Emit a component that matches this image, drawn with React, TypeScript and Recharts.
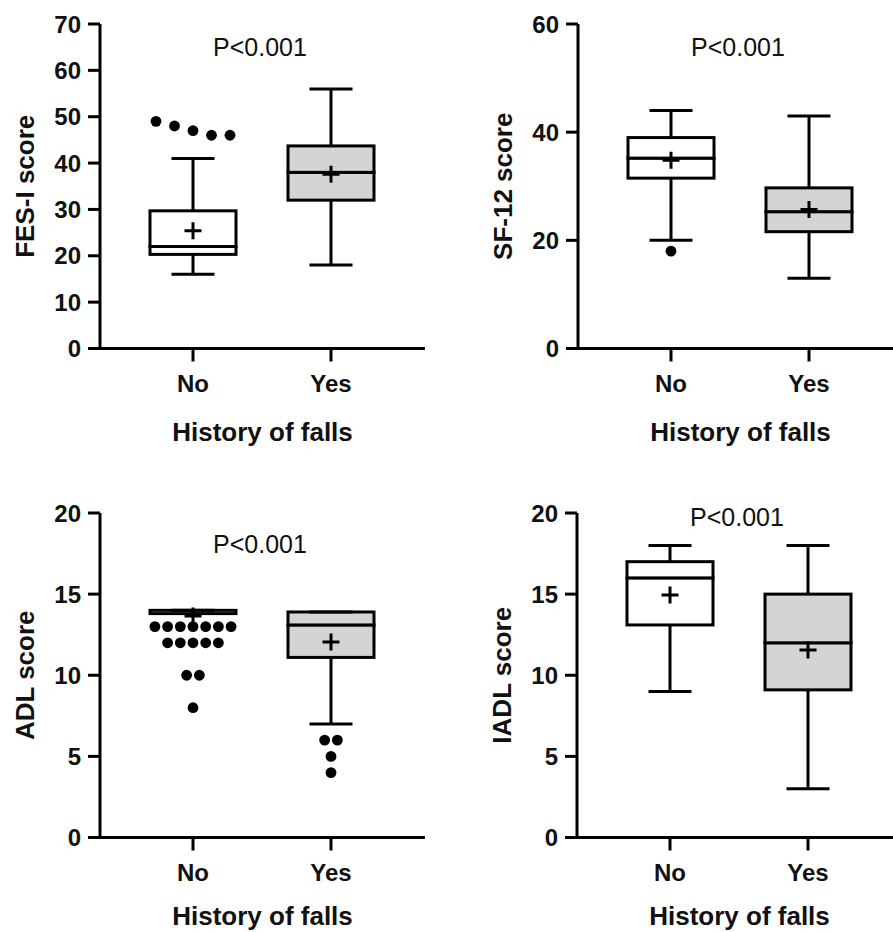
import { ComposedChart, Bar, Scatter, XAxis, YAxis } from 'recharts';

const GROUPS = ['No', 'Yes'];

// FES-I score
const FES_MIN = [16, 18];
const FES_Q1 = [20.3, 32];
const FES_MED = [22, 38];
const FES_Q3 = [29.7, 43.7];
const FES_MAX = [41, 56];
const FES_MEAN = [25.4, 37.6];
const FES_OUTLIERS = [[49, 48, 47, 46, 46], []];
const FES_TICKS = [0, 10, 20, 30, 40, 50, 60, 70];

// SF-12 score
const SF_MIN = [20, 13];
const SF_Q1 = [31.5, 21.6];
const SF_MED = [35.2, 25.3];
const SF_Q3 = [39, 29.7];
const SF_MAX = [44, 43];
const SF_MEAN = [34.8, 25.7];
const SF_OUTLIERS = [[18], []];
const SF_TICKS = [0, 20, 40, 60];

// ADL score
const ADL_MIN = [13.8, 7];
const ADL_Q1 = [13.8, 11.1];
const ADL_MED = [14, 13.1];
const ADL_Q3 = [14, 13.9];
const ADL_MAX = [14, 13.9];
const ADL_MEAN = [13.65, 12.05];
const ADL_OUTLIERS = [
    [13, 13, 13, 13, 13, 13, 13, 12, 12, 12, 12, 12, 10, 10, 8],
    [6, 6, 5, 4],
];
const ADL_TICKS = [0, 5, 10, 15, 20];

// IADL score
const IADL_MIN = [9, 3];
const IADL_Q1 = [13.1, 9.1];
const IADL_MED = [16, 12];
const IADL_Q3 = [17, 15];
const IADL_MAX = [18, 18];
const IADL_MEAN = [14.95, 11.55];
const IADL_OUTLIERS: number[][] = [[], []];
const IADL_TICKS = [0, 5, 10, 15, 20];

const P_TEXT = 'P<0.001';
const X_TITLE = 'History of falls';

const INK = '#000';
const TEXT = '#111';
const BOX_FILLS = ['#ffffff', '#d4d4d4'];
const SW = 3;
const FONT = '"Liberation Sans", Arial, Helvetica, sans-serif';

const PLOT_W = 325;
const PLOT_H = 324.5;
const M_LEFT = 10;
const Y_AXIS_W = 90;
const M_TOP = 24;
const X_AXIS_H = 100;
const PAD_L = 24;
const PAD_R = 25;
const BAND = (PLOT_W - PAD_L - PAD_R) / 2;
const BOX_W = 86;

function LowWhisker(p: any) {
    const cx = p.x + p.width / 2;
    const cap = p.width / 4;
    const bottom = p.y + p.height;
    return (
        <g stroke={INK} strokeWidth={SW}>
            <line x1={cx} x2={cx} y1={p.y} y2={bottom} />
            <line x1={cx - cap} x2={cx + cap} y1={bottom} y2={bottom} />
        </g>
    );
}

function HighWhisker(p: any) {
    const cx = p.x + p.width / 2;
    const cap = p.width / 4;
    return (
        <g stroke={INK} strokeWidth={SW}>
            <line x1={cx} x2={cx} y1={p.y} y2={p.y + p.height} />
            <line x1={cx - cap} x2={cx + cap} y1={p.y} y2={p.y} />
        </g>
    );
}

function BoxPart(p: any) {
    return (
        <rect
            x={p.x}
            y={p.y}
            width={p.width}
            height={Math.max(p.height, 0)}
            fill={BOX_FILLS[p.index] ?? '#fff'}
            stroke={INK}
            strokeWidth={SW}
        />
    );
}

function MeanCross(p: any) {
    const s = 8.5;
    return (
        <path
            d={`M${p.cx - s},${p.cy}H${p.cx + s}M${p.cx},${p.cy - s}V${p.cy + s}`}
            stroke={INK}
            strokeWidth={SW}
            fill="none"
        />
    );
}

function Dot(p: any) {
    return <circle cx={p.cx} cy={p.cy} r={5.4} fill={INK} />;
}

// spread outliers that would overlap into a row, like Prism does
function spreadOutliers(values: number[], gi: number, pxPerUnit: number, gapPx: number) {
    const sorted = [...values].sort((a, b) => b - a);
    const clusters: number[][] = [];
    sorted.forEach((v) => {
        const last = clusters[clusters.length - 1];
        if (last && (last[last.length - 1] - v) * pxPerUnit < 12) last.push(v);
        else clusters.push([v]);
    });
    return clusters.flatMap((c) =>
        c.map((v, k) => ({ x: gi + 1 + ((k - (c.length - 1) / 2) * gapPx) / BAND, y: v }))
    );
}

interface PanelProps {
    left: number;
    top: number;
    pTop: number;
    titleOffset: number;
    yLabel: string;
    yMax: number;
    ticks: number[];
    min: number[];
    q1: number[];
    med: number[];
    q3: number[];
    max: number[];
    mean: number[];
    outliers: number[][];
    dotGap: number;
}

function BoxPanel(props: PanelProps) {
    const { left, top, pTop, titleOffset, yLabel, yMax, ticks, min, q1, med, q3, max, mean, outliers, dotGap } = props;

    const rows = GROUPS.map((g, i) => ({
        group: g,
        base: min[i],
        lowW: q1[i] - min[i],
        lowBox: med[i] - q1[i],
        highBox: q3[i] - med[i],
        highW: max[i] - q3[i],
    }));
    const means = GROUPS.map((_, i) => ({ x: i + 1, y: mean[i] }));
    const pxPerUnit = PLOT_H / yMax;
    const dots = outliers.flatMap((vals, i) => spreadOutliers(vals, i, pxPerUnit, dotGap));

    const tickStyle = { fill: TEXT, fontSize: 24, fontWeight: 700, fontFamily: FONT };

    return (
        <>
            <div style={{ position: 'absolute', left, top }}>
                <ComposedChart
                    width={M_LEFT + Y_AXIS_W + PLOT_W}
                    height={M_TOP + PLOT_H + X_AXIS_H}
                    data={rows}
                    margin={{ top: M_TOP, right: 0, bottom: 0, left: M_LEFT }}
                >
                    <XAxis
                        xAxisId="cat"
                        dataKey="group"
                        type="category"
                        padding={{ left: PAD_L, right: PAD_R }}
                        height={X_AXIS_H}
                        interval={0}
                        tickSize={13}
                        tickMargin={13}
                        axisLine={{ stroke: INK, strokeWidth: SW }}
                        tickLine={{ stroke: INK, strokeWidth: SW }}
                        tick={tickStyle}
                        label={{
                            value: X_TITLE,
                            position: 'insideTop',
                            offset: titleOffset,
                            fill: TEXT,
                            fontSize: 26,
                            fontWeight: 700,
                            fontFamily: FONT,
                        }}
                    />
                    <XAxis
                        xAxisId="num"
                        dataKey="x"
                        type="number"
                        domain={[0.5, 2.5]}
                        padding={{ left: PAD_L, right: PAD_R }}
                        allowDataOverflow
                        hide
                    />
                    <YAxis
                        yAxisId="v"
                        type="number"
                        domain={[0, yMax]}
                        ticks={ticks}
                        interval={0}
                        allowDataOverflow
                        width={Y_AXIS_W}
                        tickSize={12}
                        tickMargin={7}
                        axisLine={{ stroke: INK, strokeWidth: SW }}
                        tickLine={{ stroke: INK, strokeWidth: SW }}
                        tick={tickStyle}
                        label={{
                            value: yLabel,
                            angle: -90,
                            position: 'insideLeft',
                            offset: 15,
                            fill: TEXT,
                            fontSize: 26,
                            fontWeight: 700,
                            fontFamily: FONT,
                            style: { textAnchor: 'middle' },
                        }}
                    />

                    {/* Box plot pieces stacked from the minimum upwards */}
                    <Bar xAxisId="cat" yAxisId="v" dataKey="base" stackId="box" barSize={BOX_W} shape={() => <g />} isAnimationActive={false} />
                    <Bar xAxisId="cat" yAxisId="v" dataKey="lowW" stackId="box" barSize={BOX_W} shape={LowWhisker} isAnimationActive={false} />
                    <Bar xAxisId="cat" yAxisId="v" dataKey="lowBox" stackId="box" barSize={BOX_W} shape={BoxPart} isAnimationActive={false} />
                    <Bar xAxisId="cat" yAxisId="v" dataKey="highBox" stackId="box" barSize={BOX_W} shape={BoxPart} isAnimationActive={false} />
                    <Bar xAxisId="cat" yAxisId="v" dataKey="highW" stackId="box" barSize={BOX_W} shape={HighWhisker} isAnimationActive={false} />

                    {/* Outliers */}
                    <Scatter xAxisId="num" yAxisId="v" data={dots} dataKey="y" shape={Dot} isAnimationActive={false} />
                    {/* Means */}
                    <Scatter xAxisId="num" yAxisId="v" data={means} dataKey="y" shape={MeanCross} isAnimationActive={false} />
                </ComposedChart>
            </div>
            <div
                style={{
                    position: 'absolute',
                    left: left + M_LEFT + Y_AXIS_W + 160 - 100,
                    top: top + pTop,
                    width: 200,
                    textAlign: 'center',
                    fontSize: 25,
                    lineHeight: '25px',
                    color: TEXT,
                    fontFamily: FONT,
                }}
            >
                {P_TEXT}
            </div>
        </>
    );
}

export default function App() {
    return (
        <div
            style={{
                position: 'relative',
                width: 893,
                height: 932,
                overflow: 'hidden',
                background: '#fff',
                fontFamily: FONT,
            }}
        >
            <style>{'body{margin:0}'}</style>
            <BoxPanel
                left={0}
                top={0}
                pTop={35}
                titleOffset={74}
                yLabel="FES-I score"
                yMax={70}
                ticks={FES_TICKS}
                min={FES_MIN}
                q1={FES_Q1}
                med={FES_MED}
                q3={FES_Q3}
                max={FES_MAX}
                mean={FES_MEAN}
                outliers={FES_OUTLIERS}
                dotGap={18.5}
            />
            <BoxPanel
                left={478}
                top={0}
                pTop={35}
                titleOffset={74}
                yLabel="SF-12 score"
                yMax={60}
                ticks={SF_TICKS}
                min={SF_MIN}
                q1={SF_Q1}
                med={SF_MED}
                q3={SF_Q3}
                max={SF_MAX}
                mean={SF_MEAN}
                outliers={SF_OUTLIERS}
                dotGap={18.5}
            />
            <BoxPanel
                left={0}
                top={489}
                pTop={43}
                titleOffset={69}
                yLabel="ADL score"
                yMax={20}
                ticks={ADL_TICKS}
                min={ADL_MIN}
                q1={ADL_Q1}
                med={ADL_MED}
                q3={ADL_Q3}
                max={ADL_MAX}
                mean={ADL_MEAN}
                outliers={ADL_OUTLIERS}
                dotGap={12.7}
            />
            <BoxPanel
                left={477}
                top={489}
                pTop={16}
                titleOffset={69}
                yLabel="IADL score"
                yMax={20}
                ticks={IADL_TICKS}
                min={IADL_MIN}
                q1={IADL_Q1}
                med={IADL_MED}
                q3={IADL_Q3}
                max={IADL_MAX}
                mean={IADL_MEAN}
                outliers={IADL_OUTLIERS}
                dotGap={12.7}
            />
        </div>
    );
}
